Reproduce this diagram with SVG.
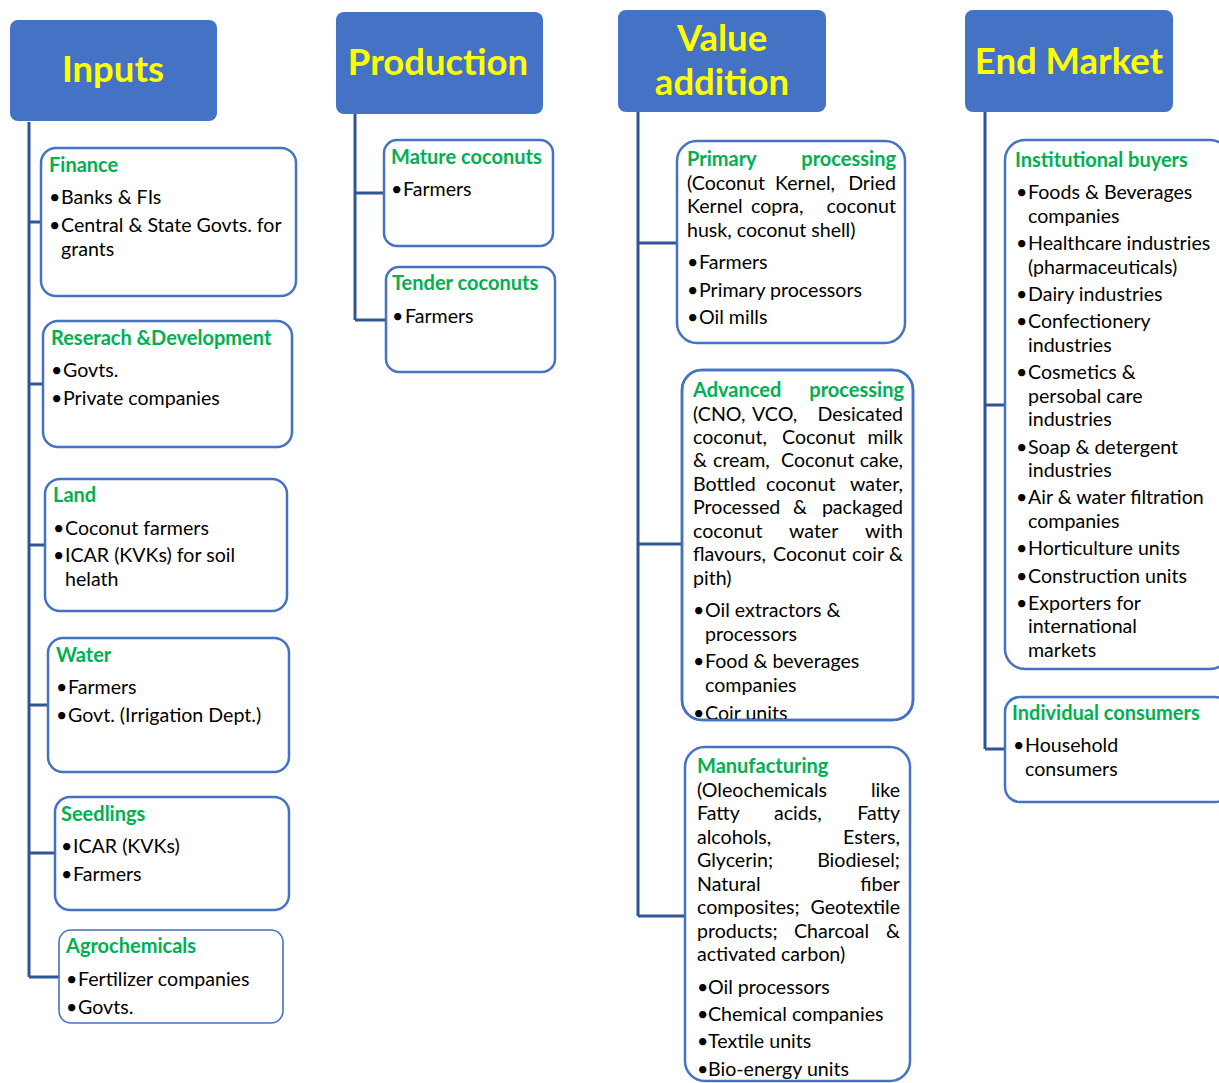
<svg xmlns="http://www.w3.org/2000/svg" width="1219" height="1083" viewBox="0 0 1219 1083">
<defs>
<style>
.hdr{fill:#4472C4}
.ht{font-family:Lato,"Liberation Sans",sans-serif;font-weight:bold;fill:#FFFF00;font-size:36.5px;text-anchor:middle}
.box{fill:#fff;stroke:#4472C4;stroke-width:2.5}
.t{font-family:Lato,"Liberation Sans",sans-serif;font-size:19.6px;fill:#000}
.g{font-family:Lato,"Liberation Sans",sans-serif;font-size:20px;font-weight:bold;fill:#00B050}
.e{text-anchor:end}
.conn{stroke:#2F5597;stroke-width:3;fill:none}
</style>
<clipPath id="advClip"><rect x="682" y="370" width="231" height="349" rx="20"/></clipPath>
</defs>
<rect width="1219" height="1083" fill="#fff"/>

<g id="connectors">
<path class="conn" d="M29 122V977M29 222H41M29 384H43M29 545H45M29 705H48M29 853H55M29 977H59"/>
<path class="conn" d="M355 114V320M355 193H384M355 320H386"/>
<path class="conn" d="M638 112V916M638 243H677M638 544H682M638 916H685"/>
<path class="conn" d="M985 112V749M985 405H1005M985 749H1005"/>
</g>

<g id="hdr-inputs"><rect class="hdr" x="10" y="20" width="207" height="101" rx="8"/><text class="ht" x="113" y="82">Inputs</text></g>
<g id="hdr-production"><rect class="hdr" x="336" y="12" width="207" height="102" rx="8"/><text class="ht" x="438" y="75">Production</text></g>
<g id="hdr-value"><rect class="hdr" x="618" y="10" width="208" height="102" rx="8"/><text class="ht" x="722" y="51">Value</text><text class="ht" x="722" y="95">addition</text></g>
<g id="hdr-end"><rect class="hdr" x="965" y="10" width="208" height="102" rx="8"/><text class="ht" x="1069" y="74">End Market</text></g>

<g id="finance"><rect class="box" x="41" y="148" width="255" height="148" rx="15"/>
<text class="g" x="49" y="172">Finance</text>
<text class="t"><tspan x="49" y="204">•</tspan><tspan x="61">Banks &amp; FIs</tspan><tspan x="49" y="232">•</tspan><tspan x="61">Central &amp; State Govts. for</tspan><tspan x="61" y="256">grants</tspan></text></g>

<g id="research"><rect class="box" x="43" y="321" width="249" height="126" rx="15"/>
<text class="g" x="51" y="345">Reserach &amp;Development</text>
<text class="t"><tspan x="51" y="377">•</tspan><tspan x="63">Govts.</tspan><tspan x="51" y="405">•</tspan><tspan x="63">Private companies</tspan></text></g>

<g id="land"><rect class="box" x="45" y="479" width="242" height="132" rx="15"/>
<text class="g" x="53" y="502">Land</text>
<text class="t"><tspan x="53" y="535">•</tspan><tspan x="65">Coconut farmers</tspan><tspan x="53" y="562">•</tspan><tspan x="65">ICAR (KVKs) for soil</tspan><tspan x="65" y="586">helath</tspan></text></g>

<g id="water"><rect class="box" x="48" y="638" width="241" height="134" rx="15"/>
<text class="g" x="56" y="662">Water</text>
<text class="t"><tspan x="56" y="694">•</tspan><tspan x="68">Farmers</tspan><tspan x="56" y="722">•</tspan><tspan x="68">Govt. (Irrigation Dept.)</tspan></text></g>

<g id="seedlings"><rect class="box" x="55" y="797" width="234" height="113" rx="15"/>
<text class="g" x="61" y="821">Seedlings</text>
<text class="t"><tspan x="61" y="853">•</tspan><tspan x="73">ICAR (KVKs)</tspan><tspan x="61" y="881">•</tspan><tspan x="73">Farmers</tspan></text></g>

<g id="agrochemicals"><rect class="box" x="59" y="930" width="224" height="93" rx="12" style="stroke-width:1.6"/>
<text class="g" x="66" y="953">Agrochemicals</text>
<text class="t"><tspan x="66" y="986">•</tspan><tspan x="78">Fertilizer companies</tspan><tspan x="66" y="1014">•</tspan><tspan x="78">Govts.</tspan></text></g>

<g id="mature"><rect class="box" x="384" y="140" width="169" height="106" rx="13"/>
<text class="g" x="391" y="164">Mature coconuts</text>
<text class="t"><tspan x="391" y="196">•</tspan><tspan x="403">Farmers</tspan></text></g>

<g id="tender"><rect class="box" x="386" y="267" width="169" height="105" rx="13"/>
<text class="g" x="392" y="290">Tender coconuts</text>
<text class="t"><tspan x="392" y="323">•</tspan><tspan x="405">Farmers</tspan></text></g>

<g id="primary"><rect class="box" x="677" y="141" width="228" height="202" rx="20"/>
<text class="g" x="687" y="166">Primary</text><text class="g e" x="896" y="166">processing</text>
<text class="t"><tspan x="687" y="190">(Coconut</tspan><tspan x="775">Kernel,</tspan><tspan x="896" text-anchor="end">Dried</tspan></text>
<text class="t"><tspan x="687" y="213">Kernel</tspan><tspan x="751">copra,</tspan><tspan x="896" text-anchor="end">coconut</tspan></text>
<text class="t" x="687" y="237">husk, coconut shell)</text>
<text class="t"><tspan x="687" y="269">•</tspan><tspan x="699">Farmers</tspan><tspan x="687" y="297">•</tspan><tspan x="699">Primary processors</tspan><tspan x="687" y="324">•</tspan><tspan x="699">Oil mills</tspan></text></g>

<g id="advanced"><rect class="box" x="682" y="370" width="231" height="350" rx="20"/>
<g clip-path="url(#advClip)">
<text class="g" x="693" y="397">Advanced</text><text class="g e" x="904" y="397">processing</text>
<text class="t"><tspan x="693" y="421">(CNO,</tspan><tspan x="752">VCO,</tspan><tspan x="903" text-anchor="end">Desicated</tspan></text>
<text class="t"><tspan x="693" y="444">coconut,</tspan><tspan x="782">Coconut</tspan><tspan x="903" text-anchor="end">milk</tspan></text>
<text class="t"><tspan x="693" y="467">&amp;</tspan><tspan x="713">cream,</tspan><tspan x="781">Coconut</tspan><tspan x="903" text-anchor="end">cake,</tspan></text>
<text class="t"><tspan x="693" y="491">Bottled</tspan><tspan x="766">coconut</tspan><tspan x="903" text-anchor="end">water,</tspan></text>
<text class="t"><tspan x="693" y="514">Processed</tspan><tspan x="793">&amp;</tspan><tspan x="903" text-anchor="end">packaged</tspan></text>
<text class="t"><tspan x="693" y="538">coconut</tspan><tspan x="789">water</tspan><tspan x="903" text-anchor="end">with</tspan></text>
<text class="t"><tspan x="693" y="561">flavours,</tspan><tspan x="773">Coconut</tspan><tspan x="852">coir</tspan><tspan x="903" text-anchor="end">&amp;</tspan></text>
<text class="t" x="693" y="585">pith)</text>
<text class="t"><tspan x="693" y="617">•</tspan><tspan x="705">Oil extractors &amp;</tspan><tspan x="705" y="641">processors</tspan><tspan x="693" y="668">•</tspan><tspan x="705">Food &amp; beverages</tspan><tspan x="705" y="692">companies</tspan><tspan x="693" y="720">•</tspan><tspan x="705">Coir units</tspan></text>
</g>
<rect x="682" y="370" width="231" height="350" rx="20" fill="none" stroke="#4472C4" stroke-width="2.5"/></g>

<g id="manufacturing"><rect class="box" x="685" y="747" width="225" height="334" rx="20"/>
<text class="g" x="697" y="773">Manufacturing</text>
<text class="t"><tspan x="697" y="797">(Oleochemicals</tspan><tspan x="900" text-anchor="end">like</tspan></text>
<text class="t"><tspan x="697" y="820">Fatty</tspan><tspan x="774">acids,</tspan><tspan x="900" text-anchor="end">Fatty</tspan></text>
<text class="t"><tspan x="697" y="844">alcohols,</tspan><tspan x="900" text-anchor="end">Esters,</tspan></text>
<text class="t"><tspan x="697" y="867">Glycerin;</tspan><tspan x="900" text-anchor="end">Biodiesel;</tspan></text>
<text class="t"><tspan x="697" y="891">Natural</tspan><tspan x="900" text-anchor="end">fiber</tspan></text>
<text class="t"><tspan x="697" y="914">composites;</tspan><tspan x="900" text-anchor="end">Geotextile</tspan></text>
<text class="t"><tspan x="697" y="938">products;</tspan><tspan x="794">Charcoal</tspan><tspan x="900" text-anchor="end">&amp;</tspan></text>
<text class="t" x="697" y="961">activated carbon)</text>
<text class="t"><tspan x="697" y="994">•</tspan><tspan x="708">Oil processors</tspan><tspan x="697" y="1021">•</tspan><tspan x="708">Chemical companies</tspan><tspan x="697" y="1048">•</tspan><tspan x="708">Textile units</tspan><tspan x="697" y="1076">•</tspan><tspan x="708">Bio-energy units</tspan></text></g>

<g id="institutional"><rect class="box" x="1005" y="140" width="225" height="529" rx="20"/>
<text class="g" x="1015" y="167">Institutional buyers</text>
<text class="t">
<tspan x="1016" y="199">•</tspan><tspan x="1028">Foods &amp; Beverages</tspan><tspan x="1028" y="223">companies</tspan>
<tspan x="1016" y="250">•</tspan><tspan x="1028">Healthcare industries</tspan><tspan x="1028" y="274">(pharmaceuticals)</tspan>
<tspan x="1016" y="301">•</tspan><tspan x="1028">Dairy industries</tspan>
<tspan x="1016" y="328">•</tspan><tspan x="1028">Confectionery</tspan><tspan x="1028" y="352">industries</tspan>
<tspan x="1016" y="379">•</tspan><tspan x="1028">Cosmetics &amp;</tspan><tspan x="1028" y="403">persobal care</tspan><tspan x="1028" y="426">industries</tspan>
<tspan x="1016" y="454">•</tspan><tspan x="1028">Soap &amp; detergent</tspan><tspan x="1028" y="477">industries</tspan>
<tspan x="1016" y="504">•</tspan><tspan x="1028">Air &amp; water filtration</tspan><tspan x="1028" y="528">companies</tspan>
<tspan x="1016" y="555">•</tspan><tspan x="1028">Horticulture units</tspan>
<tspan x="1016" y="583">•</tspan><tspan x="1028">Construction units</tspan>
<tspan x="1016" y="610">•</tspan><tspan x="1028">Exporters for</tspan><tspan x="1028" y="633">international</tspan><tspan x="1028" y="657">markets</tspan>
</text></g>

<g id="individual"><rect class="box" x="1005" y="697" width="225" height="105" rx="15"/>
<text class="g" x="1012" y="720">Individual consumers</text>
<text class="t"><tspan x="1013" y="752">•</tspan><tspan x="1025">Household</tspan><tspan x="1025" y="776">consumers</tspan></text></g>
</svg>
